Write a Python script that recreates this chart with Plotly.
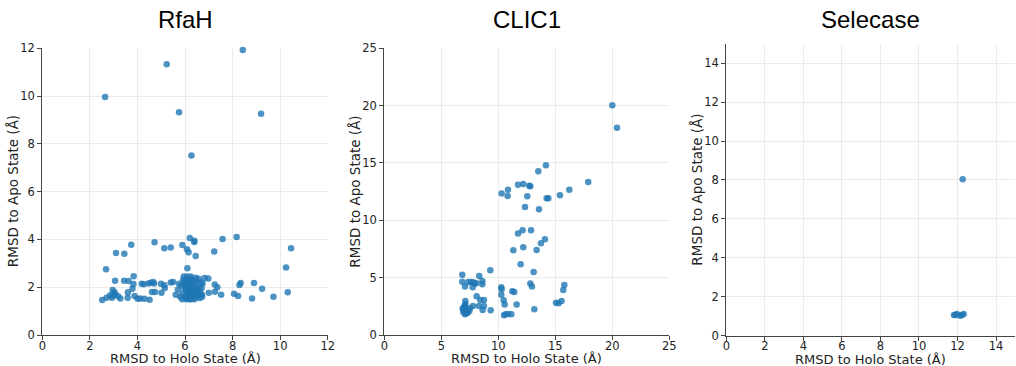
import plotly.graph_objects as go

W, H = 1016, 366

titles = ["RfaH", "CLIC1", "Selecase"]
x_label = "RMSD to Holo State (Å)"
y_label = "RMSD to Apo State (Å)"

rfah_x = [8.43, 5.23, 2.64, 5.75, 9.2, 6.27, 4.72, 3.10, 3.45, 3.74, 5.13, 5.40, 5.89, 6.08, 6.15, 6.2, 6.39, 6.39,
          6.45, 7.58, 8.17, 7.23, 10.25, 10.46, 2.68, 6.10, 3.06, 3.44, 3.63, 3.84, 3.83, 3.79, 3.88, 4.01, 4.18,
          4.26, 4.46, 4.56, 4.66, 4.12, 4.29, 4.51, 4.61, 4.74, 4.70, 4.99, 5.13, 5.01, 5.15, 5.40, 5.50, 5.61,
          2.52, 2.70, 2.85, 2.96, 2.99, 3.03, 3.07, 3.19, 3.28, 2.93, 3.60, 3.59, 6.83, 6.98, 6.74, 6.70, 6.71,
          7.0, 7.25, 7.26, 7.36, 7.52, 8.06, 8.23, 8.29, 8.34, 8.9, 8.82, 9.24, 9.72, 10.32,
          5.85, 5.9, 5.95, 6.0, 6.0, 6.02, 6.05, 6.05, 6.08, 6.1, 6.1, 6.12, 6.12, 6.15, 6.15, 6.18, 6.18, 6.2,
          6.2, 6.22, 6.22, 6.25, 6.25, 6.28, 6.28, 6.3, 6.3, 6.32, 6.35, 6.35, 6.38, 6.4, 6.4, 6.42, 6.45, 6.48,
          6.5, 6.52, 6.55, 6.6, 6.62, 5.8, 5.75, 5.7, 5.95, 6.05, 6.25, 6.45, 6.58, 6.68, 6.72, 6.65, 5.88, 6.15,
          6.35, 6.0, 6.2, 5.92, 6.48, 6.3]
rfah_y = [11.93, 11.33, 9.96, 9.32, 9.26, 7.51, 3.88, 3.43, 3.40, 3.78, 3.63, 3.66, 3.77, 3.59, 3.46, 4.06, 3.95, 3.89,
          3.31, 4.02, 4.10, 3.49, 2.83, 3.63, 2.75, 2.79, 2.27, 2.27, 2.26, 2.46, 2.13, 1.94, 1.63, 1.52, 2.15,
          2.12, 2.16, 2.19, 2.22, 1.53, 1.52, 1.48, 1.80, 1.80, 2.16, 2.15, 2.08, 1.77, 1.97, 2.20, 2.22, 1.68,
          1.47, 1.56, 1.66, 1.88, 1.65, 1.79, 1.72, 1.62, 1.53, 1.56, 1.79, 1.56, 2.39, 2.37, 2.16, 1.97, 1.68,
          1.77, 2.11, 1.81, 2.0, 1.68, 1.73, 1.63, 2.09, 2.18, 2.18, 1.53, 1.94, 1.60, 1.79,
          2.05, 1.75, 2.2, 1.6, 1.95, 2.3, 1.5, 1.85, 2.1, 1.65, 2.45, 1.55, 1.9, 2.2, 1.7, 2.0, 1.5, 1.8,
          2.35, 1.6, 2.1, 1.9, 1.5, 1.7, 2.25, 2.0, 1.55, 1.8, 2.15, 1.65, 1.95, 1.5, 2.3, 1.75, 2.05, 1.6,
          1.85, 2.2, 1.7, 1.95, 1.55, 1.6, 2.15, 1.9, 2.45, 2.25, 2.45, 2.4, 2.35, 2.2, 1.6, 1.75, 1.5, 1.6,
          1.85, 2.1, 1.95, 2.3, 1.95, 1.7]

clic1_x = [20.0, 20.41, 14.18, 13.51, 17.89, 11.73, 12.19, 12.72, 12.81, 10.29, 10.85, 10.82, 12.54, 14.24, 14.39,
           15.41, 16.23, 12.34, 13.57, 12.13, 12.87, 11.73, 14.09, 13.74, 11.32, 12.19, 13.36, 11.96, 9.30, 13.1,
           6.84, 8.33, 6.84, 7.37, 7.6, 7.81, 8.07, 7.92, 7.75, 7.08, 8.6, 8.6, 10.26, 10.29, 12.81, 12.95, 15.79,
           15.7, 10.26, 11.23, 11.4, 8.1, 8.42, 8.74, 10.47, 10.56, 11.61, 8.30, 8.74, 7.11, 7.11, 7.11, 7.78,
           7.51, 6.87, 6.93, 7.08, 7.31, 7.46, 6.99, 7.19, 8.63, 9.33, 13.16, 15.06, 15.29, 15.55, 10.5, 10.64,
           10.85, 11.14, 7.05, 7.2, 7.0]
clic1_y = [20.03, 18.08, 14.80, 14.27, 13.34, 13.11, 13.17, 13.02, 12.97, 12.33, 12.67, 12.12, 12.09, 11.92, 11.92,
           12.18, 12.67, 11.16, 10.96, 9.13, 9.13, 8.84, 8.34, 7.99, 7.38, 7.65, 7.41, 6.16, 5.64, 5.49,
           5.26, 5.15, 4.65, 4.62, 4.62, 4.59, 4.51, 4.48, 4.16, 4.24, 4.71, 4.42, 4.16, 3.98, 4.48, 4.22, 4.36,
           3.92, 3.52, 3.81, 3.75, 3.37, 3.05, 3.05, 3.02, 2.65, 2.67, 2.53, 2.53, 2.97, 2.70, 2.44, 2.53,
           2.33, 2.30, 2.0, 1.80, 1.95, 2.09, 2.15, 2.18, 2.18, 2.15, 2.24, 2.82, 2.76, 2.97, 1.72, 1.80,
           1.83, 1.80, 2.55, 1.9, 2.4]

sele_x = [12.27, 11.89, 11.97, 11.82, 12.13, 12.32, 12.23]
sele_y = [8.04, 1.06, 1.10, 1.05, 1.01, 1.10, 1.05]

datasets = [(rfah_x, rfah_y), (clic1_x, clic1_y), (sele_x, sele_y)]
x_ranges = [[0, 12], [0, 25], [0, 15]]
y_ranges = [[0, 12], [0, 25], [0, 15]]
x_dticks = [2, 5, 2]
y_dticks = [2, 5, 2]

# plot area pixel bounds (left, right, top, bottom)
areas = [(42.3, 327.7, 48.3, 335.0), (384.3, 669.3, 48.3, 335.0), (726.3, 1015.3, 43.8, 335.5)]
ytitle_x = [12.5, 355.0, 697.0]
xtitle_y = [358.5, 358.5, 359.2]

fig = go.Figure()
for i, (xs, ys) in enumerate(datasets):
    n = "" if i == 0 else str(i + 1)
    fig.add_trace(go.Scatter(
        x=xs, y=ys, mode="markers", xaxis="x" + n, yaxis="y" + n,
        marker=dict(size=6.5, color="rgba(31,119,180,0.8)", line=dict(width=0)),
        cliponaxis=False, showlegend=False, hoverinfo="x+y"))
    l, r, t, b = areas[i]
    xmax = x_ranges[i][1]
    ymax = y_ranges[i][1]
    ax_common = dict(showline=True, linecolor="#444444", linewidth=1.1, ticks="outside", ticklen=4,
                     tickcolor="#444444", tickwidth=1, showgrid=True, gridcolor="#ebebeb", gridwidth=1,
                     zeroline=False, mirror=False, automargin=False,
                     tickfont=dict(family="DejaVu Sans", size=11.5, color="#222222"))
    fig.update_layout(**{
        "xaxis" + n: dict(domain=[l / W, r / W], range=x_ranges[i],
                          tickvals=[v for v in range(0, xmax + 1, x_dticks[i])],
                          ticklabelstandoff=-4,
                          anchor="y" + n, **ax_common),
        "yaxis" + n: dict(domain=[1 - b / H, 1 - t / H], range=y_ranges[i],
                          tickvals=[v for v in range(0, ymax + 1, y_dticks[i])],
                          anchor="x" + n, **ax_common),
    })
    cx = (l + r) / 2
    fig.add_annotation(text=titles[i], x=cx / W, y=1 - 20 / H, xref="paper", yref="paper",
                       showarrow=False, xanchor="center", yanchor="middle",
                       font=dict(family="Liberation Sans", size=24, color="#000000"))
    fig.add_annotation(text=x_label, x=cx / W, y=1 - xtitle_y[i] / H, xref="paper", yref="paper",
                       showarrow=False, xanchor="center", yanchor="middle",
                       font=dict(family="DejaVu Sans", size=13, color="#222222"))
    fig.add_annotation(text=y_label, x=ytitle_x[i] / W, y=1 - ((t + b) / 2) / H, xref="paper", yref="paper",
                       showarrow=False, xanchor="center", yanchor="middle", textangle=-90,
                       font=dict(family="DejaVu Sans", size=13.5, color="#222222"))

fig.update_layout(width=W, height=H, margin=dict(l=0, r=0, t=0, b=0),
                  paper_bgcolor="white", plot_bgcolor="white")
fig.write_html("out.html", config={"displayModeBar": False},
               post_script="document.body.style.margin='0px';")
